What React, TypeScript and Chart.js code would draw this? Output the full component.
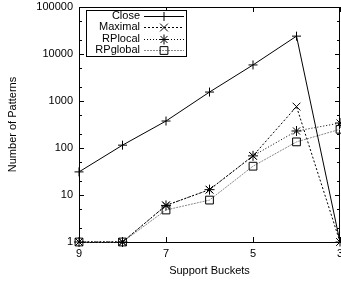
import React, { useEffect, useRef } from 'react';
import { Chart, registerables } from 'chart.js';
import { drawPoint } from 'chart.js/helpers';

Chart.register(...registerables);

const categories = ['9', '8', '7', '6', '5', '4', '3'];
const xTickLabels = ['9', '7', '5', '3'];
const yTickValues = [1, 10, 100, 1000, 10000, 100000];
const yMinorMultipliers = [2, 5];

const closeValues = [31, 115, 375, 1550, 5850, 24000, 1];
const maximalValues = [1, 1, 6, 13, 68, 760, 1];
const rpLocalValues = [1, 1, 6, 13, 68, 230, 340];
const rpGlobalValues = [1, 1, 4.8, 7.8, 41, 135, 250];

const seriesNames = ['Close', 'Maximal', 'RPlocal', 'RPglobal'];

const FONT = '"Liberation Sans", Arial, Helvetica, sans-serif';

const framePlugin = {
  id: 'gnuFrame',
  beforeDatasetsDraw(chart: any) {
    const { ctx, chartArea: a, scales } = chart;
    const xs = scales.x;
    const ys = scales.y;
    ctx.save();
    ctx.strokeStyle = '#000';
    ctx.lineWidth = 1;
    ctx.setLineDash([]);
    ctx.beginPath();
    for (const v of yTickValues) {
      const py = Math.round(ys.getPixelForValue(v)) + 0.5;
      ctx.moveTo(a.left, py);
      ctx.lineTo(a.left + 5, py);
      ctx.moveTo(a.right, py);
      ctx.lineTo(a.right - 5, py);
      if (v < 100000) {
        for (const m of yMinorMultipliers) {
          const pm = Math.round(ys.getPixelForValue(v * m)) + 0.5;
          ctx.moveTo(a.left, pm);
          ctx.lineTo(a.left + 3, pm);
          ctx.moveTo(a.right, pm);
          ctx.lineTo(a.right - 3, pm);
        }
      }
    }
    categories.forEach((c, i) => {
      if (!xTickLabels.includes(c)) return;
      const px = Math.round(xs.getPixelForValue(i)) + 0.5;
      ctx.moveTo(px, a.bottom);
      ctx.lineTo(px, a.bottom - 5);
      ctx.moveTo(px, a.top);
      ctx.lineTo(px, a.top + 5);
    });
    ctx.stroke();
    ctx.strokeRect(Math.round(a.left) + 0.5, Math.round(a.top) + 0.5, Math.round(a.right - a.left) - 1, Math.round(a.bottom - a.top));
    ctx.restore();
  },
};

const legendPlugin = {
  id: 'gnuLegend',
  afterDatasetsDraw(chart: any) {
    const { ctx, chartArea: a } = chart;
    const bx = a.left + 7;
    const by = a.top + 3;
    const bw = 100;
    const bh = 46;
    ctx.save();
    ctx.fillStyle = '#fff';
    ctx.fillRect(bx, by, bw, bh);
    ctx.strokeStyle = '#000';
    ctx.lineWidth = 1;
    ctx.setLineDash([]);
    ctx.strokeRect(bx + 0.5, by + 0.5, bw, bh);
    ctx.font = `11px ${FONT}`;
    ctx.textAlign = 'right';
    ctx.textBaseline = 'middle';
    chart.data.datasets.forEach((ds: any, i: number) => {
      const ry = by + 6 + i * 11.3;
      ctx.fillStyle = '#000';
      ctx.fillText(ds.label, bx + 54, ry);
      const lyy = Math.round(ry) + 0.5;
      ctx.strokeStyle = ds.borderColor;
      ctx.lineWidth = ds.borderWidth;
      ctx.setLineDash(ds.borderDash || []);
      ctx.beginPath();
      ctx.moveTo(bx + 58, lyy);
      ctx.lineTo(bx + 98, lyy);
      ctx.stroke();
      ctx.setLineDash([]);
      ctx.strokeStyle = ds.pointBorderColor;
      ctx.fillStyle = ds.pointBackgroundColor;
      drawPoint(ctx, { pointStyle: ds.pointStyle, radius: ds.pointRadius, rotation: 0, borderWidth: 1 } as any, bx + 78, lyy);
    });
    ctx.restore();
  },
};

export default function App() {
  const canvasRef = useRef<HTMLCanvasElement | null>(null);

  useEffect(() => {
    if (!canvasRef.current) return;
    const mk = (label: string, data: number[], color: string, dash: number[], pointStyle: string, radius: number) => ({
      label,
      data,
      borderColor: color,
      borderWidth: 1,
      borderDash: dash,
      pointStyle,
      pointRadius: radius,
      pointBorderColor: '#000',
      pointBackgroundColor: 'rgba(0,0,0,0)',
      pointBorderWidth: 1,
      tension: 0,
      fill: false,
      clip: false,
    });
    const chart = new Chart(canvasRef.current, {
      type: 'line',
      data: {
        labels: categories,
        datasets: [
          mk(seriesNames[0], closeValues, '#000', [], 'cross', 4.5),
          mk(seriesNames[1], maximalValues, '#000', [2, 2], 'crossRot', 5.5),
          mk(seriesNames[2], rpLocalValues, '#000', [1, 2], 'star', 5),
          mk(seriesNames[3], rpGlobalValues, '#888', [2, 1], 'rect', 5.5),
        ] as any,
      },
      options: {
        responsive: false,
        animation: false,
        layout: { autoPadding: false, padding: { top: 7, right: 1, left: 0, bottom: 0 } },
        plugins: { legend: { display: false }, tooltip: { enabled: false } },
        scales: {
          x: {
            type: 'category',
            offset: false,
            grid: { display: false, drawTicks: false },
            border: { display: false },
            ticks: {
              autoSkip: false,
              maxRotation: 0,
              padding: 5,
              color: '#000',
              font: { family: FONT, size: 11 },
              callback: function (this: any, value: any) {
                const l = this.getLabelForValue(value);
                return xTickLabels.includes(l) ? l : '';
              },
            },
            title: {
              display: true,
              text: 'Support Buckets',
              color: '#000',
              font: { family: FONT, size: 11 },
              padding: { top: 2, bottom: 4 },
            },
            afterFit: (s: any) => {
              s.height = 40;
              s.paddingLeft = 0;
              s.paddingRight = 0;
            },
          },
          y: {
            type: 'logarithmic',
            min: 1,
            max: 100000,
            grid: { display: false, drawTicks: false },
            border: { display: false },
            afterBuildTicks: (s: any) => {
              s.ticks = yTickValues.map((v) => ({ value: v, major: true }));
            },
            ticks: {
              autoSkip: false,
              padding: 6,
              color: '#000',
              font: { family: FONT, size: 11 },
              callback: (v: any) => String(v),
            },
            title: {
              display: true,
              text: 'Number of Patterns',
              color: '#000',
              font: { family: FONT, size: 11 },
              padding: { top: 6, bottom: 0 },
            },
            afterFit: (s: any) => {
              s.width = 79;
              s.paddingTop = 0;
              s.paddingBottom = 0;
            },
          },
        },
      } as any,
      plugins: [framePlugin, legendPlugin],
    });
    return () => chart.destroy();
  }, []);

  return (
    <div style={{ position: 'fixed', left: 0, top: 0, width: 341, height: 282, background: '#fff' }}>
      <canvas ref={canvasRef} width={341} height={282} style={{ width: 341, height: 282, display: 'block' }} />
    </div>
  );
}
